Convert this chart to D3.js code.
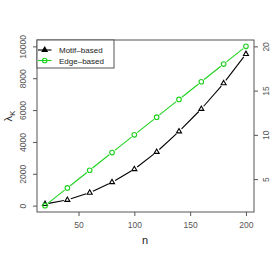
<!DOCTYPE html>
<html>
<head>
<meta charset="utf-8">
<script src="https://cdn.jsdelivr.net/npm/d3@7"></script>
<style>
  body { margin: 0; background: #fff; }
  text { font-family: "Liberation Sans", Arial, sans-serif; }
</style>
</head>
<body>
<svg id="chart"></svg>
<script>
// data
var nValues = [20, 40, 60, 80, 100, 120, 140, 160, 180, 200];
var motifBased = [100, 360, 810, 1470, 2290, 3370, 4660, 6070, 7680, 9520];   // left axis
var edgeBased = [2, 4, 6, 8, 10, 12, 14, 16, 18, 20];                           // right axis
var leftTicks = [0, 2000, 4000, 6000, 8000, 10000];
var rightTicks = [5, 10, 15, 20];
var bottomTicks = [50, 100, 150, 200];
var legendLabels = ["Motif\u2013based", "Edge\u2013based"];

var W = 273, H = 262;
var box = {left: 37, right: 254, top: 40, bottom: 212};
var axisCol = "#555";
var green = "#1fd11f";

var svg = d3.select("#chart").attr("width", W).attr("height", H);

var x = d3.scaleLinear().domain([12.8, 207.2]).range([box.left, box.right]);
var yL = d3.scaleLinear().domain([-400, 10400]).range([box.bottom, box.top]);
var yR = d3.scaleLinear().domain([1.28, 20.72]).range([box.bottom, box.top]);

// axes
var gB = svg.append("g").attr("transform", "translate(0," + box.bottom + ")")
  .call(d3.axisBottom(x).tickValues(bottomTicks).tickFormat(d3.format("d")).tickSize(4).tickPadding(4));
var gL = svg.append("g").attr("transform", "translate(" + box.left + ",0)")
  .call(d3.axisLeft(yL).tickValues(leftTicks).tickFormat(d3.format("d")).tickSize(4).tickPadding(3));
var gR = svg.append("g").attr("transform", "translate(" + box.right + ",0)")
  .call(d3.axisRight(yR).tickValues(rightTicks).tickFormat(d3.format("d")).tickSize(4).tickPadding(3));

[gB, gL, gR].forEach(function(g) {
  g.select(".domain").remove();
  g.selectAll("line").attr("stroke", axisCol);
  g.selectAll("text").attr("fill", axisCol).style("font-size", "8.5px")
    .style("font-family", "'Liberation Sans', Arial, sans-serif");
});
gB.selectAll("text").attr("dy", "0.9em");

// rotated labels on the vertical axes
gL.selectAll(".tick text")
  .attr("x", null).attr("dy", null)
  .attr("text-anchor", "middle")
  .attr("transform", "translate(-11,0) rotate(-90)");
gR.selectAll(".tick text")
  .attr("x", null).attr("dy", null)
  .attr("text-anchor", "middle")
  .attr("transform", "translate(15,0) rotate(-90)");

// plot box
svg.append("rect")
  .attr("x", box.left).attr("y", box.top)
  .attr("width", box.right - box.left).attr("height", box.bottom - box.top)
  .attr("fill", "none").attr("stroke", axisCol).attr("stroke-width", 1);

// axis titles
svg.append("text").attr("x", 145).attr("y", 244)
  .attr("text-anchor", "middle").style("font-size", "11px").attr("fill", "#222").text("n");
var yt = svg.append("text").attr("text-anchor", "middle").style("font-size", "11px").attr("fill", "#222")
  .attr("transform", "translate(12,116) rotate(-90)");
yt.append("tspan").text("\u03bb");
yt.append("tspan").attr("dy", 3).style("font-size", "8px").text("K");

// lines with gaps around the points (type = "b")
function gapSegments(pts, gap) {
  var segs = [];
  for (var i = 0; i < pts.length - 1; i++) {
    var a = pts[i], b = pts[i + 1];
    var dx = b[0] - a[0], dy = b[1] - a[1], len = Math.sqrt(dx * dx + dy * dy);
    if (len <= 2 * gap) continue;
    var ux = dx / len, uy = dy / len;
    segs.push([a[0] + ux * gap, a[1] + uy * gap, b[0] - ux * gap, b[1] - uy * gap]);
  }
  return segs;
}

function drawSeries(vals, yScale, col, shape) {
  var pts = nValues.map(function(n, i) { return [x(n), yScale(vals[i])]; });
  svg.append("g").selectAll("line").data(gapSegments(pts, 3.6)).enter().append("line")
    .attr("x1", function(d) { return d[0]; }).attr("y1", function(d) { return d[1]; })
    .attr("x2", function(d) { return d[2]; }).attr("y2", function(d) { return d[3]; })
    .attr("stroke", col).attr("stroke-width", 1.1);
  var g = svg.append("g");
  if (shape === "circle") {
    g.selectAll("circle").data(pts).enter().append("circle")
      .attr("cx", function(d) { return d[0]; }).attr("cy", function(d) { return d[1]; })
      .attr("r", 2.3).attr("fill", "none").attr("stroke", col).attr("stroke-width", 1.1);
  } else {
    var tri = d3.symbol().type(d3.symbolTriangle).size(11);
    g.selectAll("path").data(pts).enter().append("path")
      .attr("d", tri)
      .attr("transform", function(d) { return "translate(" + d[0] + "," + d[1] + ")"; })
      .attr("fill", "none").attr("stroke", col).attr("stroke-width", 1.1);
  }
}

drawSeries(motifBased, yL, "#000", "triangle");
drawSeries(edgeBased, yR, green, "circle");

// legend
var leg = svg.append("g");
leg.append("rect").attr("x", box.left).attr("y", box.top)
  .attr("width", 77).attr("height", 28)
  .attr("fill", "#fff").attr("stroke", axisCol).attr("stroke-width", 1);
var legCols = ["#000", green];
legendLabels.forEach(function(lab, i) {
  var ly = 50 + i * 10.5;
  leg.append("line").attr("x1", 38).attr("x2", 51.5).attr("y1", ly).attr("y2", ly)
    .attr("stroke", legCols[i]).attr("stroke-width", 1.1);
  if (i === 0) {
    leg.append("path").attr("d", d3.symbol().type(d3.symbolTriangle).size(11))
      .attr("transform", "translate(44.7," + ly + ")")
      .attr("fill", "#000").attr("stroke", "#000").attr("stroke-width", 1.1);
  } else {
    leg.append("circle").attr("cx", 44.7).attr("cy", ly).attr("r", 2.3)
      .attr("fill", "none").attr("stroke", green).attr("stroke-width", 1.1);
  }
  leg.append("text").attr("x", 59).attr("y", ly + 3).style("font-size", "8px")
    .attr("fill", "#222").text(lab);
});
</script>
</body>
</html>
